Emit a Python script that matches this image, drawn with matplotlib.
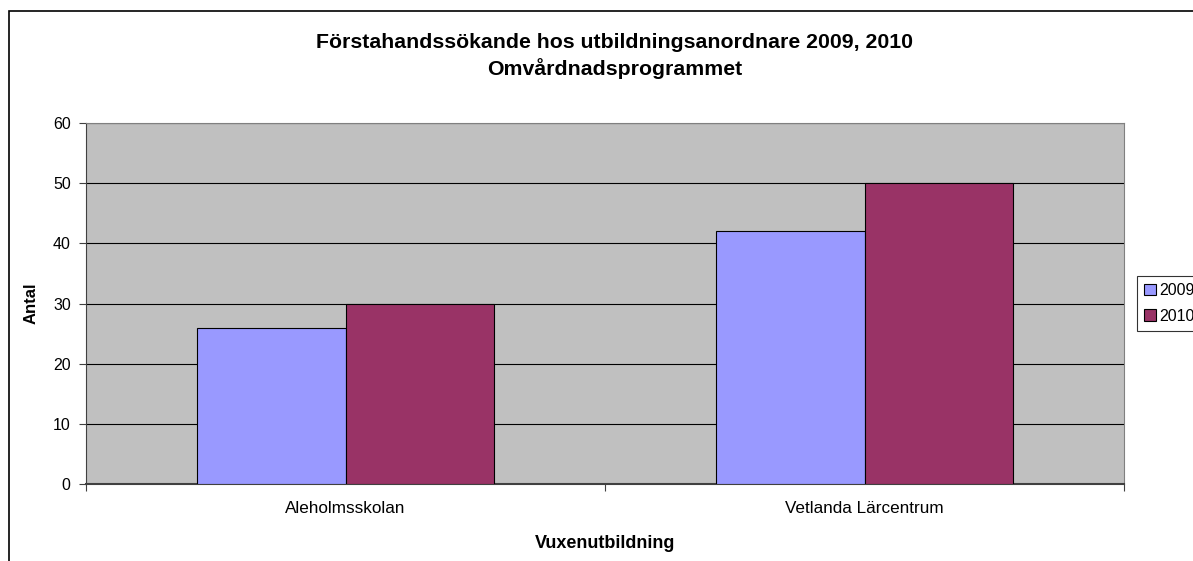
import matplotlib.pyplot as plt
import numpy as np
from matplotlib.patches import Rectangle

plt.rcParams['font.family'] = ['Liberation Sans', 'DejaVu Sans']

# data
categories = ['Aleholmsskolan', 'Vetlanda Lärcentrum']
series = ['2009', '2010']
values_2009 = [26, 42]
values_2010 = [30, 50]
colors = ['#9999FF', '#993366']

W, H = 1193, 561
fig = plt.figure(figsize=(W / 100, H / 100), dpi=100)

# outer chart frame (runs off the right and bottom edges)
fig.patches.append(Rectangle((8.5 / W, -0.1), 1.2, 1 - 10.5 / H + 0.1,
                             transform=fig.transFigure, fill=False,
                             edgecolor='black', linewidth=1.2))

ax = fig.add_axes([86 / W, 1 - 484 / H, (1124 - 86) / W, (484 - 123) / H])
ax.set_facecolor('#C0C0C0')

x = np.arange(len(categories))
bw = 0.287
ax.bar(x - bw / 2, values_2009, bw, color=colors[0], edgecolor='black',
       linewidth=0.8, label=series[0], zorder=3)
ax.bar(x + bw / 2, values_2010, bw, color=colors[1], edgecolor='black',
       linewidth=0.8, label=series[1], zorder=3)

ax.set_xlim(-0.5, 1.5)
ax.set_ylim(0, 60)
ax.set_yticks(np.arange(0, 61, 10))
ax.yaxis.grid(True, color='black', linewidth=0.8, zorder=1)
ax.set_axisbelow(True)

ax.set_xticks([-0.5, 0.5, 1.5])
ax.set_xticklabels([])
ax.set_xticks(x, minor=True)
ax.set_xticklabels(categories, minor=True, fontsize=12.3)
ax.tick_params(axis='x', which='minor', length=0, pad=12)
ax.tick_params(axis='x', which='major', length=5, direction='out', color='#404040')
ax.tick_params(axis='y', length=5, direction='out', labelsize=11.5,
               color='#404040', pad=6)

for s in ['top', 'right']:
    ax.spines[s].set_color('#808080')
ax.spines['left'].set_color('#404040')
ax.spines['bottom'].set_color('#404040')
ax.spines['bottom'].set_linewidth(1.5)

ax.set_ylabel('Antal', fontsize=12, fontweight='bold', labelpad=10)
ax.set_xlabel('Vuxenutbildning', fontsize=13, fontweight='bold', labelpad=14)

fig.text(615 / W, 1 - 43 / H, 'Förstahandssökande hos utbildningsanordnare 2009, 2010',
         ha='center', va='center', fontsize=15.3, fontweight='bold')
fig.text(615 / W, 1 - 69 / H, 'Omvårdnadsprogrammet',
         ha='center', va='center', fontsize=15.3, fontweight='bold')

leg = fig.legend(loc='upper left', bbox_to_anchor=(1137 / W, 1 - 276 / H),
                 fontsize=11.5, frameon=True, fancybox=False, edgecolor='black',
                 handlelength=0.75, handleheight=0.75, handletextpad=0.2,
                 borderpad=0.45, labelspacing=0.65, borderaxespad=0)
leg.get_frame().set_linewidth(0.8)

fig.savefig('out.png', dpi=100)
